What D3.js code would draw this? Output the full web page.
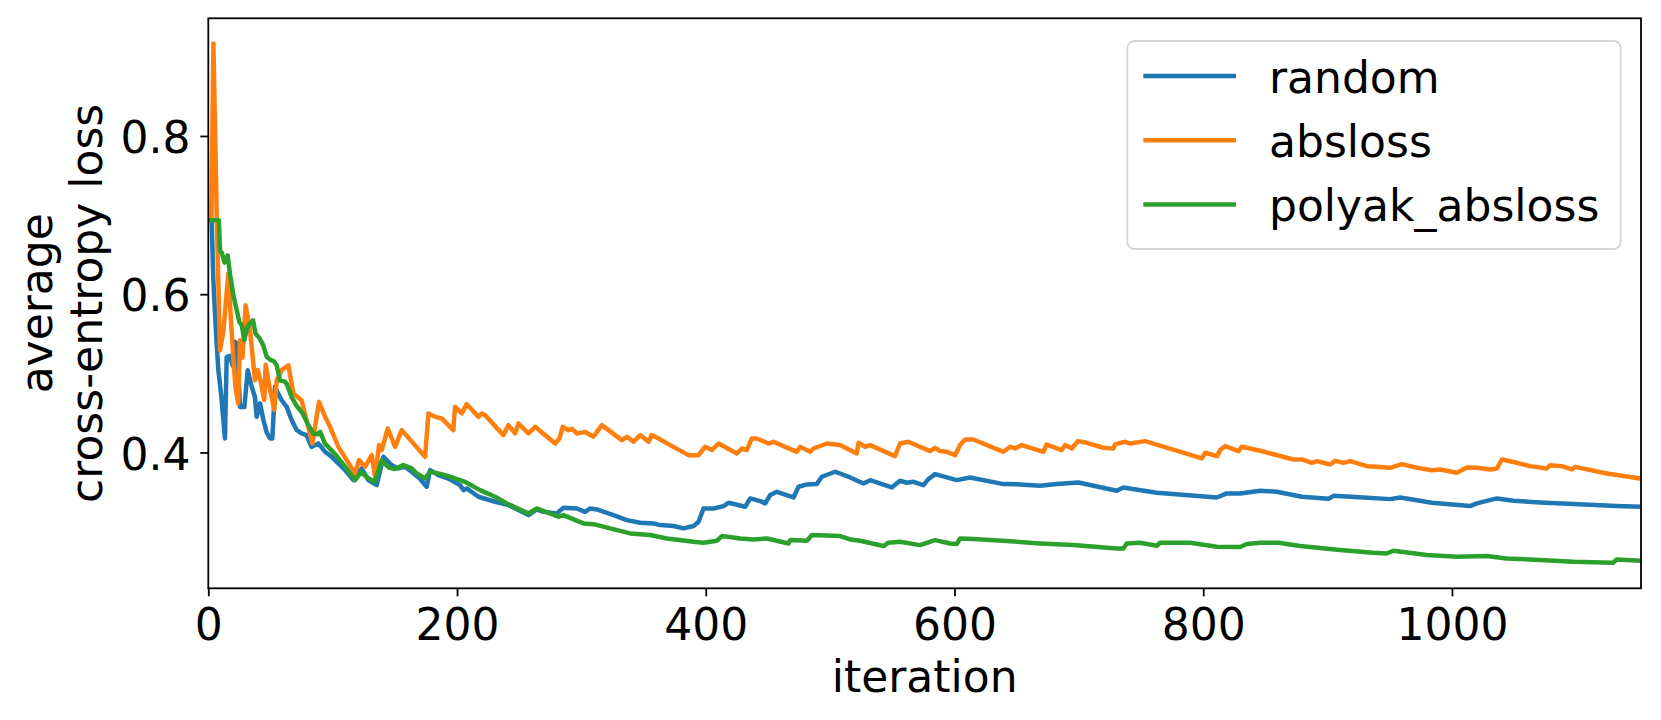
<!DOCTYPE html>
<html><head><meta charset="utf-8">
<script src="https://cdn.jsdelivr.net/npm/d3@7"></script>
<style>
body{margin:0;background:#fff}
svg{display:block}
text{font-family:"DejaVu Sans",sans-serif;fill:#000}
</style>
</head><body><svg id="c" width="1661" height="720"></svg>
<script>
const seriesNames = ["random", "absloss", "polyak_absloss"];
const seriesColors = ["#1f77b4", "#ff7f0e", "#2ca02c"];

// [iteration, average cross-entropy loss]
const randomLoss = [[0,0.6935],[2.7,0.6935],[4,0.62],[5.4,0.5755],[6.7,0.5376],[8.1,0.504],[10.5,0.47],[13.4,0.4176],[14.8,0.5208],[17.5,0.522],[19.5,0.51],[21.5,0.54],[22.8,0.5377],[24.5,0.49],[25.5,0.4575],[29,0.4575],[31.7,0.504],[34.9,0.483],[37.5,0.47],[38.9,0.445],[41.6,0.462],[44.3,0.441],[47,0.425],[49.6,0.4176],[51.5,0.4176],[53.6,0.483],[56,0.475],[59,0.466],[63,0.4576],[67,0.441],[71,0.4284],[75,0.424],[79,0.422],[83,0.407],[88.5,0.4114],[93.9,0.4008],[99.2,0.3945],[104.6,0.386],[110,0.3777],[116.6,0.365],[123.3,0.3798],[128.7,0.365],[135.4,0.3587],[140.8,0.3945],[147.4,0.384],[152.8,0.3798],[158.2,0.382],[163.5,0.3756],[170,0.367],[175.6,0.3567],[178.3,0.3777],[185,0.3714],[193,0.367],[202.4,0.3587],[205.1,0.3524],[207.8,0.3545],[217.2,0.344],[230.6,0.3377],[241.3,0.3335],[257.4,0.3208],[264.1,0.328],[269.5,0.325],[280.2,0.323],[285.6,0.3301],[296.3,0.3292],[303,0.325],[307,0.3292],[312.4,0.328],[325.8,0.3208],[336.5,0.3145],[347.3,0.3111],[358,0.3103],[363.4,0.3082],[374.1,0.307],[382.2,0.304],[390.2,0.307],[394.2,0.3124],[398.2,0.3292],[406.3,0.3292],[414.3,0.3322],[418.3,0.3364],[431.7,0.3313],[435.7,0.3419],[443.8,0.3385],[447.8,0.3356],[451.8,0.3461],[457.2,0.3503],[470.6,0.3431],[474.6,0.3566],[481.3,0.3596],[489.3,0.36],[493.3,0.3693],[504.1,0.3756],[516.1,0.3684],[526.8,0.3608],[532.1,0.365],[549.5,0.3558],[556.2,0.3642],[561.6,0.3617],[567,0.3629],[575,0.3587],[579,0.3663],[584.4,0.3726],[601.8,0.365],[612.5,0.3684],[639.4,0.36],[652.8,0.3596],[668.8,0.3579],[682.2,0.36],[699.6,0.3621],[730.5,0.3516],[735.8,0.3558],[762.6,0.3491],[810.9,0.3431],[818.9,0.3482],[829.7,0.3482],[845.8,0.3516],[859.2,0.3503],[879.3,0.344],[900.7,0.3414],[904.7,0.3452],[928.8,0.3431],[950.3,0.341],[958.4,0.3431],[983.8,0.3364],[1014.6,0.3322],[1020,0.3356],[1036.1,0.3419],[1049.5,0.3389],[1071,0.3368],[1097.6,0.3347],[1132.4,0.3322],[1151.3,0.3314]];

const abslossLoss = [[0,0.6935],[2.5,0.6935],[4.1,0.917],[6.8,0.6977],[9.4,0.529],[12.1,0.5524],[16.1,0.6261],[18.5,0.56],[20.5,0.51],[22,0.48],[24,0.4619],[25.5,0.5419],[27.5,0.52],[30,0.5861],[33.5,0.5555],[37.5,0.4913],[39.7,0.504],[42.4,0.4876],[45,0.4666],[46.1,0.5108],[49.6,0.4792],[53.1,0.4539],[55,0.4913],[59,0.504],[64.4,0.51],[68.4,0.4745],[75,0.466],[83.7,0.4114],[89,0.4639],[93.9,0.445],[97.9,0.4324],[104.6,0.4071],[118,0.3735],[121.2,0.3903],[126,0.3819],[131.4,0.3966],[134.1,0.3693],[137.3,0.4093],[139.5,0.403],[144.3,0.4303],[150.2,0.4071],[155.5,0.4282],[174.3,0.3945],[177,0.4492],[182.3,0.445],[187.7,0.443],[197,0.4282],[198.4,0.4576],[203.8,0.4493],[207.8,0.461],[217.2,0.445],[219.9,0.4493],[222.6,0.447],[237.3,0.4219],[241.3,0.4345],[246.7,0.424],[249.4,0.4366],[257.4,0.424],[262.8,0.4324],[278.9,0.4113],[282.4,0.4177],[285,0.4324],[289.6,0.428],[292.3,0.43],[296.3,0.424],[303,0.426],[309.7,0.4198],[316.4,0.4345],[332.5,0.4156],[336.5,0.4198],[341.9,0.4135],[347.3,0.422],[354,0.4135],[356.6,0.422],[362,0.4177],[371.4,0.4093],[386.1,0.3966],[394.2,0.3966],[399.5,0.4072],[404.9,0.403],[410.3,0.4113],[425,0.3987],[429,0.405],[433,0.403],[437,0.4177],[441,0.4177],[450.4,0.4113],[454.4,0.4135],[473.2,0.4008],[475.9,0.4072],[483.9,0.4008],[486.6,0.405],[497.3,0.4113],[508,0.4093],[521.4,0.3987],[522.8,0.4122],[528.1,0.4072],[532.1,0.4093],[552.2,0.3953],[556.2,0.4113],[562.9,0.4135],[580.4,0.4017],[584.4,0.4059],[588.4,0.4017],[593.8,0.4008],[600.5,0.3966],[604.5,0.4093],[608.5,0.4164],[615.2,0.4164],[639.4,0.4008],[644.7,0.4072],[648.7,0.405],[654.1,0.4093],[671.5,0.4008],[674.2,0.41],[686.3,0.403],[689,0.4093],[694.3,0.405],[699.2,0.4143],[706.4,0.4122],[719.8,0.4059],[727.8,0.405],[729.2,0.4105],[737.2,0.4135],[741.2,0.4113],[753.3,0.4143],[798.9,0.3924],[801.6,0.3996],[811,0.3953],[813.6,0.403],[817.7,0.408],[828.4,0.4017],[831.1,0.4072],[845.8,0.4021],[872.6,0.3911],[879.3,0.3911],[887.4,0.3869],[891.4,0.389],[902.1,0.3848],[906.1,0.3894],[912.8,0.3869],[918.2,0.389],[931.6,0.3827],[939.6,0.3818],[950.3,0.3806],[959.7,0.3852],[971.8,0.3806],[983.8,0.3776],[990.5,0.3785],[1003.9,0.3743],[1012,0.381],[1020,0.3806],[1030.7,0.3785],[1036.1,0.3797],[1040.1,0.3911],[1052.2,0.3869],[1062.9,0.3827],[1076.3,0.3797],[1079,0.3839],[1088.4,0.3827],[1096.4,0.3785],[1099.1,0.3818],[1124.5,0.3734],[1151.3,0.3671]];

const polyakLoss = [[0,0.6935],[8.5,0.6935],[9.4,0.655],[11,0.652],[13,0.64],[15.6,0.649],[17.4,0.626],[20,0.6],[22.8,0.58],[25,0.565],[27,0.56],[29,0.542],[31,0.556],[33,0.562],[36,0.567],[38,0.55],[41,0.545],[44,0.536],[47,0.521],[50,0.517],[53,0.515],[55,0.51],[57.7,0.491],[61,0.49],[63,0.487],[67,0.47],[71,0.459],[76,0.449],[80.4,0.4345],[84.5,0.424],[88,0.423],[90,0.426],[93.8,0.411],[96.5,0.407],[103,0.396],[110,0.382],[118,0.365],[123,0.375],[128,0.368],[134,0.363],[139.4,0.39],[145,0.381],[150,0.379],[156.8,0.384],[163.5,0.3798],[168,0.373],[174.3,0.3672],[178.3,0.3756],[185,0.3735],[193,0.37],[202.4,0.365],[206.4,0.3629],[218.5,0.3524],[230.6,0.344],[240,0.3355],[257.4,0.323],[264.1,0.3292],[281.5,0.3187],[285.5,0.3208],[301.6,0.3103],[309.7,0.3094],[323.1,0.304],[339.2,0.2977],[355.3,0.2956],[368.7,0.2913],[390.2,0.2871],[398.2,0.2859],[408.9,0.2884],[413,0.2943],[427.7,0.2913],[438.4,0.29],[449.2,0.2913],[466.6,0.285],[467.9,0.2892],[481.3,0.2884],[485.3,0.2956],[508.1,0.2943],[516.1,0.29],[524.1,0.2884],[542.9,0.2817],[546.9,0.2859],[556.2,0.2871],[572.3,0.2829],[584.4,0.2892],[596.5,0.285],[601.8,0.2842],[604.5,0.2913],[615.2,0.2905],[642,0.288],[668.8,0.285],[695.6,0.2829],[730.5,0.2787],[735.8,0.2787],[738.5,0.285],[749.2,0.2859],[762.6,0.2821],[765.3,0.2859],[789.4,0.2859],[810.9,0.2808],[829.7,0.2804],[835,0.2842],[845.8,0.2859],[860.5,0.2859],[877.9,0.2817],[910,0.2766],[936.8,0.2732],[947.5,0.2724],[952.9,0.2758],[979.7,0.2703],[1003.8,0.2682],[1027.9,0.269],[1044,0.2661],[1070.8,0.264],[1097.6,0.2619],[1129.7,0.2606],[1132.4,0.2648],[1151.3,0.2631]];

const xTickValues = [0, 200, 400, 600, 800, 1000];
const yTickValues = [0.4, 0.6, 0.8];
const xLabelText = "iteration";
const yLabelLines = ["average", "cross-entropy loss"];
const xDomain = [0, 1152];
const yDomain = [0.2283, 0.9487];

const allSeries = [randomLoss, abslossLoss, polyakLoss];

const svg = d3.select("#c");
const FS = 44;
const box = {left: 208.3, top: 18.3, right: 1641, bottom: 588.3};
const x = d3.scaleLinear().domain(xDomain).range([box.left, box.right]);
const y = d3.scaleLinear().domain(yDomain).range([box.bottom, box.top]);

svg.append("rect").attr("width", 1661).attr("height", 720).attr("fill", "#fff");

svg.append("defs").append("clipPath").attr("id", "clip")
  .append("rect").attr("x", box.left).attr("y", box.top)
  .attr("width", box.right - box.left).attr("height", box.bottom - box.top);

const line = d3.line().x(d => x(d[0])).y(d => y(d[1]));
const g = svg.append("g").attr("clip-path", "url(#clip)");
allSeries.forEach((s, i) => {
  g.append("path").datum(s).attr("d", line)
    .attr("fill", "none").attr("stroke", seriesColors[i])
    .attr("stroke-width", 4.5).attr("stroke-linejoin", "round").attr("stroke-linecap", "square");
});

// axes
const xAxis = svg.append("g").attr("transform", `translate(0,${box.bottom})`)
  .call(d3.axisBottom(x).tickValues(xTickValues).tickFormat(d3.format("d")).tickSize(8).tickPadding(12));
const yAxis = svg.append("g").attr("transform", `translate(${box.left},0)`)
  .call(d3.axisLeft(y).tickValues(yTickValues).tickFormat(d3.format(".1f")).tickSize(8).tickPadding(9.8));
[xAxis, yAxis].forEach(a => {
  a.select(".domain").remove();
  a.selectAll(".tick line").attr("stroke", "#000").attr("stroke-width", 1.8);
  a.selectAll(".tick text").attr("font-size", FS).attr("font-family", "DejaVu Sans").attr("fill", "#000");
});
yAxis.selectAll(".tick text").attr("dy", "0.38em");

// spines
svg.append("rect").attr("x", box.left).attr("y", box.top)
  .attr("width", box.right - box.left).attr("height", box.bottom - box.top)
  .attr("fill", "none").attr("stroke", "#000").attr("stroke-width", 1.8);

// axis labels
svg.append("text").attr("x", (box.left + box.right) / 2).attr("y", 691.7)
  .attr("text-anchor", "middle").attr("font-size", FS).text(xLabelText);
const yl = svg.append("text").attr("transform", `translate(0,${(box.top + box.bottom) / 2}) rotate(-90)`)
  .attr("text-anchor", "middle").attr("font-size", FS);
yl.append("tspan").attr("x", 0).attr("y", 51.7).text(yLabelLines[0]);
yl.append("tspan").attr("x", 0).attr("y", 101.7).text(yLabelLines[1]);

// legend
const lg = svg.append("g");
lg.append("rect").attr("x", 1127.3).attr("y", 41).attr("width", 493.4).attr("height", 208)
  .attr("rx", 7).attr("fill", "#fff").attr("fill-opacity", 0.8)
  .attr("stroke", "#cccccc").attr("stroke-opacity", 0.8).attr("stroke-width", 1.8);
seriesNames.forEach((name, i) => {
  const cy = 76 + i * 64.3;
  lg.append("line").attr("x1", 1143.3).attr("x2", 1236).attr("y1", cy).attr("y2", cy)
    .attr("stroke", seriesColors[i]).attr("stroke-width", 4.5);
  lg.append("text").attr("x", 1269).attr("y", cy + 16.7).attr("font-size", FS).text(name);
});
</script>
</body></html>
